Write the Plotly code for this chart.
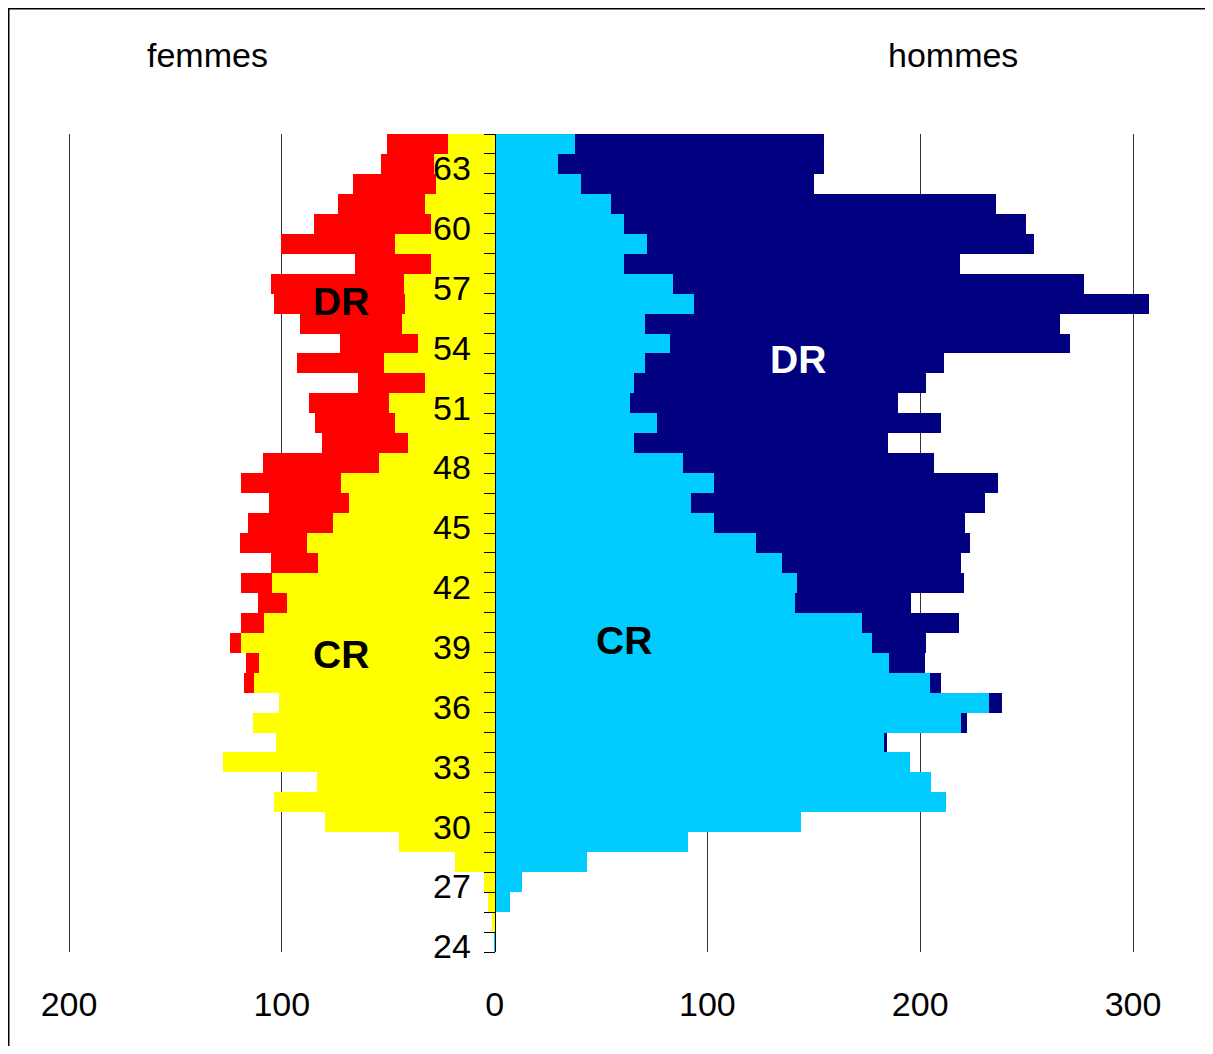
import plotly.graph_objects as go

# ---------------- data ----------------
ages = list(range(24, 65))  # 24 .. 64

women_cr = [0, 1, 3, 5, 18.4, 44.7, 79.5, 103.5, 83.3, 127.5,
            102.6, 113.4, 101.2, 113, 110.6, 119, 108.2, 97.4, 104.5, 82.8,
            88, 75.8, 68.2, 72, 54.1, 40.9, 46.6, 49.4, 32.5, 51.8,
            36.2, 43.3, 41.9, 42.4, 30.1, 47, 30.1, 32.5, 27.4, 28.3,
            21.8]
women_dr = [0, 0, 0, 0, 0, 0, 0, 0, 0, 0,
            0, 0, 0, 5, 6.1, 5.2, 10.8, 13.6, 14.5, 22.2,
            31.5, 40, 37.7, 47, 54.6, 40, 37.6, 37.6, 31.5, 40.9,
            36.3, 48, 61.6, 62.6, 35.3, 53.2, 54.6, 40.9, 39, 24.9,
            29]
men_cr = [0.7, 0, 7.2, 13.1, 43.2, 91.1, 144.1, 212.2, 205.2, 195.3,
          183, 219.2, 232.4, 204.7, 185.5, 177.5, 172.8, 141.3, 142.2, 135.2,
          123, 103, 92.2, 103, 88.7, 65.7, 76.5, 63.4, 65.7, 70.6,
          82.6, 70.6, 93.6, 83.7, 61, 71.8, 61, 54.9, 40.4, 29.7,
          37.8]
men_dr = [0, 0, 0, 0, 0, 0, 0, 0, 0, 0,
          1.5, 2.8, 6.1, 5.2, 16.8, 25.3, 45.5, 54.5, 78.5, 84,
          100.3, 118, 138.1, 133.4, 117.7, 119.1, 133.5, 126.4, 136.9, 140.4,
          187.6, 194.9, 213.9, 193.5, 157.6, 181.5, 188.5, 180.6, 109.5, 124.9,
          116.8]

age_tick_labels = [24, 27, 30, 33, 36, 39, 42, 45, 48, 51, 54, 57, 60, 63]
x_tick_vals = [-200, -100, 0, 100, 200, 300]
x_tick_text = ["200", "100", "0", "100", "200", "300"]

# ---------------- layout geometry ----------------
W, H = 1205, 1038
L, R, T, B = 40, 38, 126, 94
PX_PER_UNIT = 2.128
x_lo = -200 - (61 - L) / PX_PER_UNIT
x_hi = 300 + ((W - R) - 1125) / PX_PER_UNIT
x_range = [x_lo, x_hi]
y_range = [23.5, 64.5]
plot_w = W - L - R
plot_h = H - T - B
LABEL_SHIFT = 0.22  # age labels sit slightly below the bar centres


def paper_x(fx):
    return (fx - L) / plot_w


def paper_y(fy):
    return 1 - (fy - T) / plot_h


FONT = "Liberation Sans, Arial, Helvetica, sans-serif"

fig = go.Figure()
fig.add_trace(go.Bar(y=ages, x=[-v for v in women_cr], orientation="h",
                     marker=dict(color="#FFFF00", line=dict(width=0)),
                     name="femmes CR"))
fig.add_trace(go.Bar(y=ages, x=[-v for v in women_dr], orientation="h",
                     marker=dict(color="#FF0000", line=dict(width=0)),
                     name="femmes DR"))
fig.add_trace(go.Bar(y=ages, x=men_cr, orientation="h",
                     marker=dict(color="#00CCFF", line=dict(width=0)),
                     name="hommes CR"))
fig.add_trace(go.Bar(y=ages, x=men_dr, orientation="h",
                     marker=dict(color="#000080", line=dict(width=0)),
                     name="hommes DR"))

yaxis_pos = (0 - x_lo) / (x_hi - x_lo)

fig.update_layout(
    width=W, height=H,
    margin=dict(l=L, r=R, t=T, b=B, pad=0),
    barmode="relative", bargap=0,
    showlegend=False,
    paper_bgcolor="white", plot_bgcolor="white",
    font=dict(family=FONT, color="black"),
    xaxis=dict(range=x_range, tickmode="array", tickvals=x_tick_vals,
               ticktext=x_tick_text, showgrid=True, gridcolor="#333333",
               gridwidth=1, zeroline=False, showline=False, ticks="",
               tickfont=dict(size=34, family=FONT, color="black"),
               ticklabelstandoff=29, fixedrange=True),
    yaxis=dict(range=y_range, tickmode="array",
               tickvals=[a - LABEL_SHIFT for a in age_tick_labels],
               ticktext=[str(a) for a in age_tick_labels],
               ticks="outside", ticklen=11, tickcolor="rgba(0,0,0,0)",
               showline=True, linecolor="black", linewidth=1,
               anchor="free", position=yaxis_pos,
               showgrid=False, zeroline=False,
               tickfont=dict(size=34, family=FONT, color="black"),
               ticklabelstandoff=6,
               minor=dict(tick0=23.5, dtick=1, ticks="outside", ticklen=11,
                          tickcolor="black", tickwidth=1, showgrid=False),
               fixedrange=True),
)

annotations = [
    dict(text="femmes", x=paper_x(199), y=paper_y(47), xref="paper", yref="paper",
         showarrow=False, xanchor="center", yanchor="middle",
         font=dict(size=34, family=FONT, color="black")),
    dict(text="hommes", x=paper_x(945), y=paper_y(47), xref="paper", yref="paper",
         showarrow=False, xanchor="center", yanchor="middle",
         font=dict(size=34, family=FONT, color="black")),
    dict(text="<b>DR</b>", x=-72.1, y=56.1, xref="x", yref="y", showarrow=False,
         xanchor="center", yanchor="middle",
         font=dict(size=39, family=FONT, color="black")),
    dict(text="<b>CR</b>", x=-72.1, y=38.4, xref="x", yref="y", showarrow=False,
         xanchor="center", yanchor="middle",
         font=dict(size=39, family=FONT, color="black")),
    dict(text="<b>DR</b>", x=142.5, y=53.2, xref="x", yref="y", showarrow=False,
         xanchor="center", yanchor="middle",
         font=dict(size=39, family=FONT, color="white")),
    dict(text="<b>CR</b>", x=60.9, y=39.1, xref="x", yref="y", showarrow=False,
         xanchor="center", yanchor="middle",
         font=dict(size=39, family=FONT, color="black")),
]
fig.update_layout(annotations=annotations)

# frame of the figure (left and top edges visible in the reference)
fig.add_shape(type="line", xref="paper", yref="paper",
              x0=paper_x(0.75), x1=paper_x(0.75), y0=paper_y(0), y1=paper_y(H),
              line=dict(color="black", width=1.5))
fig.add_shape(type="line", xref="paper", yref="paper",
              x0=paper_x(0), x1=paper_x(W), y0=paper_y(0.75), y1=paper_y(0.75),
              line=dict(color="black", width=1.5))

fig.write_html("out.html", config=dict(displayModeBar=False))
